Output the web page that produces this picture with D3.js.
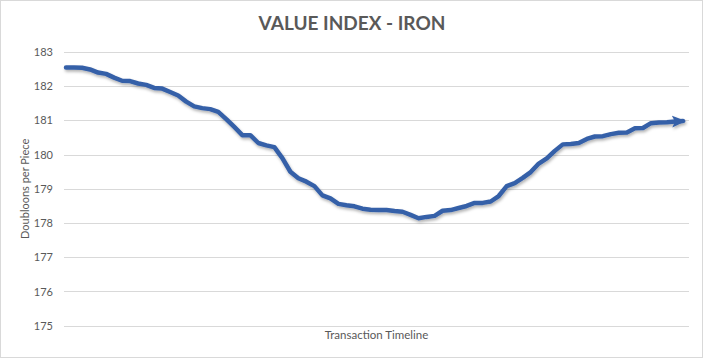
<!DOCTYPE html>
<html>
<head>
<meta charset="utf-8">
<script src="https://cdn.jsdelivr.net/npm/d3@7"></script>
<style>
  html, body { margin: 0; padding: 0; background: #fff; }
  svg { display: block; }
</style>
</head>
<body>
<div id="chart"></div>
<script>
// ---- data ----
const chartTitle = "VALUE INDEX - IRON";
const xAxisTitle = "Transaction Timeline";
const yAxisTitle = "Doubloons per Piece";
const yTicks = [175, 176, 177, 178, 179, 180, 181, 182, 183];
const values = [
  182.55, 182.55, 182.54, 182.49, 182.40, 182.36, 182.25, 182.16, 182.15, 182.08,
  182.04, 181.95, 181.93, 181.83, 181.73, 181.55, 181.41, 181.36, 181.33, 181.25,
  181.04, 180.81, 180.57, 180.57, 180.34, 180.27, 180.22, 179.90, 179.50, 179.31,
  179.21, 179.08, 178.81, 178.72, 178.56, 178.52, 178.49, 178.42, 178.39, 178.38,
  178.38, 178.35, 178.33, 178.24, 178.14, 178.18, 178.21, 178.36, 178.38, 178.44,
  178.50, 178.59, 178.59, 178.63, 178.79, 179.08, 179.17, 179.32, 179.49, 179.74,
  179.89, 180.11, 180.30, 180.31, 180.34, 180.46, 180.53, 180.54, 180.60, 180.64,
  180.65, 180.77, 180.78, 180.92, 180.94, 180.95, 180.97, 180.98
];
const indices = values.map((d, i) => i);

// ---- layout ----
const W = 705, H = 359;
const plot = { left: 64, right: 689, top: 52, bottom: 325.7 };
const font = "Lato, 'Open Sans', sans-serif";
const textColor = "#595959";
const gridColor = "#d9d9d9";
const lineColor = "#3660a8";

const svg = d3.select("#chart").append("svg")
  .attr("width", W).attr("height", H);

const defs = svg.append("defs");
const shadow = defs.append("filter").attr("id", "shadow")
  .attr("x", "-5%").attr("y", "-10%").attr("width", "110%").attr("height", "130%");
shadow.append("feDropShadow")
  .attr("dx", 1).attr("dy", 2).attr("stdDeviation", 1.5)
  .attr("flood-color", "#000").attr("flood-opacity", 0.3);

defs.append("marker")
  .attr("id", "arrow")
  .attr("markerUnits", "userSpaceOnUse")
  .attr("viewBox", "0 0 14 14")
  .attr("refX", 11).attr("refY", 7)
  .attr("markerWidth", 14).attr("markerHeight", 14)
  .attr("orient", "auto")
  .append("path")
  .attr("d", "M0,1 L14,7 L0,13 L3,7 Z")
  .attr("fill", lineColor);

// background + border
svg.append("rect")
  .attr("x", 0.5).attr("y", 0.5).attr("width", W - 3).attr("height", H - 2)
  .attr("fill", "#fff").attr("stroke", gridColor).attr("stroke-width", 1);

// scales
const x = d3.scalePoint().domain(indices).range([66, 683]);
const y = d3.scaleLinear().domain([175, 183]).range([plot.bottom, plot.top]);

// gridlines
svg.append("g").selectAll("line").data(yTicks).join("line")
  .attr("x1", plot.left).attr("x2", plot.right)
  .attr("y1", d => Math.round(y(d)) + 0.5).attr("y2", d => Math.round(y(d)) + 0.5)
  .attr("stroke", gridColor).attr("stroke-width", 1);

// y axis labels via d3 axis
const yAxis = d3.axisLeft(y).tickValues(yTicks).tickSize(0).tickPadding(0)
  .tickFormat(d3.format("d"));
const gy = svg.append("g").attr("transform", "translate(53,0)").call(yAxis);
gy.select(".domain").remove();
gy.selectAll("text")
  .attr("fill", textColor).style("font-family", font).style("font-size", "11px");

// line
const line = d3.line().x((d, i) => x(i)).y(d => y(d));
svg.append("path")
  .datum(values)
  .attr("d", line)
  .attr("fill", "none")
  .attr("stroke", lineColor)
  .attr("stroke-width", 4.5)
  .attr("stroke-linejoin", "round")
  .attr("stroke-linecap", "round")
  .attr("marker-end", "url(#arrow)")
  .attr("filter", "url(#shadow)");

// title
svg.append("text")
  .attr("x", 352).attr("y", 30)
  .attr("text-anchor", "middle")
  .attr("fill", textColor)
  .style("font-family", font).style("font-weight", "bold").style("font-size", "19px")
  .text(chartTitle);

// x axis title
svg.append("text")
  .attr("x", (plot.left + plot.right) / 2).attr("y", 339)
  .attr("text-anchor", "middle")
  .attr("fill", textColor)
  .style("font-family", font).style("font-size", "11.5px")
  .text(xAxisTitle);

// y axis title
svg.append("text")
  .attr("transform", `translate(29,${(plot.top + plot.bottom) / 2}) rotate(-90)`)
  .attr("text-anchor", "middle")
  .attr("fill", textColor)
  .style("font-family", font).style("font-size", "11px")
  .text(yAxisTitle);
</script>
</body>
</html>
